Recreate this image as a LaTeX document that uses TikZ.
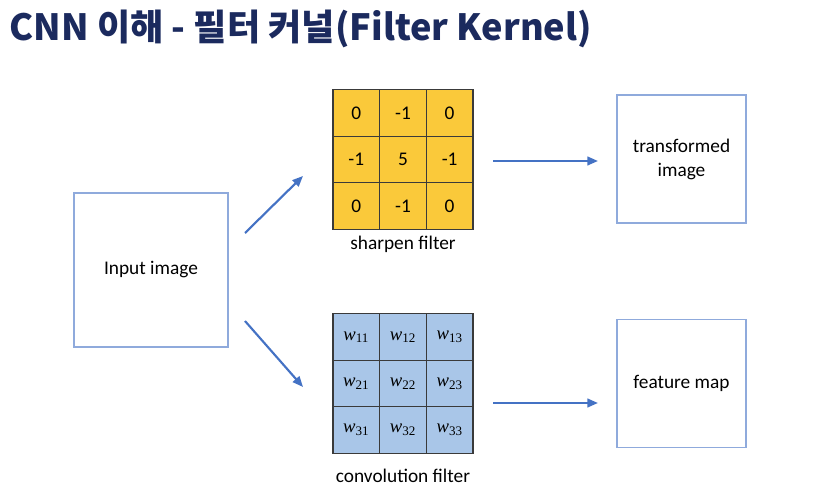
\documentclass[tikz,border=0pt]{standalone}
\usepackage{fontspec}
\setmainfont{Carlito}
\newfontfamily\titlefont{Noto Sans CJK KR}
\newfontfamily\wfont{Liberation Serif}
\usetikzlibrary{arrows.meta}

\definecolor{titleblue}{HTML}{1B2A5E}
\definecolor{boxblue}{HTML}{8FAADC}
\definecolor{arrowblue}{HTML}{4472C4}
\definecolor{cellgold}{HTML}{FAC93A}
\definecolor{cellblue}{HTML}{A9C6E8}
\definecolor{gridline}{HTML}{3A3A3A}

\newcommand{\wsub}[1]{{\wfont\itshape w}\textsubscript{\wfont #1}}

\tikzset{every picture/.style={line width=0.75pt},
  imgbox/.style={draw=boxblue, line width=1.1pt, inner sep=0pt, align=center,
    font=\fontsize{14.5}{18}\selectfont},
  kcell/.style={draw=gridline, line width=0.8pt, minimum size=35pt, inner sep=0pt,
    font=\fontsize{14.5}{16}\selectfont},
  flow/.style={draw=arrowblue, line width=1.6pt, -{Triangle[length=8pt,width=6.5pt]}}}

\begin{document}
\begin{tikzpicture}[x=0.75pt,y=0.75pt,yscale=-1,xscale=1]
\useasboundingbox (0,0) rectangle (829,495);

% Title
\draw (9,41) node [anchor=base west, inner sep=0pt, text=titleblue, font=\titlefont\bfseries\fontsize{27.1}{30}\selectfont] (title) {CNN 이해 - 필터 커널(Filter Kernel)};

%Shape: Rectangle [input]
\draw (151,270) node [imgbox, minimum width=115.5pt, minimum height=115.5pt] (input) {Input image};
%Shape: Rectangle [transformed]
\draw (681.5,159) node [imgbox, minimum width=96.75pt, minimum height=96pt] (transformed) {transformed\\image};
%Shape: Rectangle [feature map]
\draw (681.5,383.5) node [imgbox, minimum width=96.75pt, minimum height=96pt] (featmap) {feature map};

% Sharpen kernel
\foreach \v [count=\i from 0] in {0,-1,0,-1,5,-1,0,-1,0}
  \draw ({356.3+46.67*mod(\i,3)},{113.2+46.5*int(\i/3)}) node [kcell, fill=cellgold] (s\i) {\v};
% Convolution kernel
\foreach \r in {1,2,3}
  \foreach \c in {1,2,3}
    \draw ({356.3+46.67*(\c-1)},{337.2+46.5*(\r-1)}) node [kcell, fill=cellblue, font=\fontsize{14}{16}\selectfont] (w\r\c) {\wsub{\r\c}};

% Text Node
\draw (403,244) node [font=\fontsize{14.5}{17}\selectfont] (sharplabel) {sharpen filter};
% Text Node
\draw (403,476) node [font=\fontsize{14.5}{17}\selectfont] (convlabel) {convolution filter};

% Arrows
\coordinate (a1) at (245,233);
\coordinate (a2) at (303,176);
\coordinate (b1) at (245,321);
\coordinate (b2) at (303,387);
\coordinate (c1) at (493,161);
\coordinate (c2) at (598,161);
\coordinate (d1) at (493,403);
\coordinate (d2) at (598,403);
\draw [flow] (a1) -- (a2);
\draw [flow] (b1) -- (b2);
\draw [flow] (c1) -- (c2);
\draw [flow] (d1) -- (d2);

\end{tikzpicture}
\end{document}
